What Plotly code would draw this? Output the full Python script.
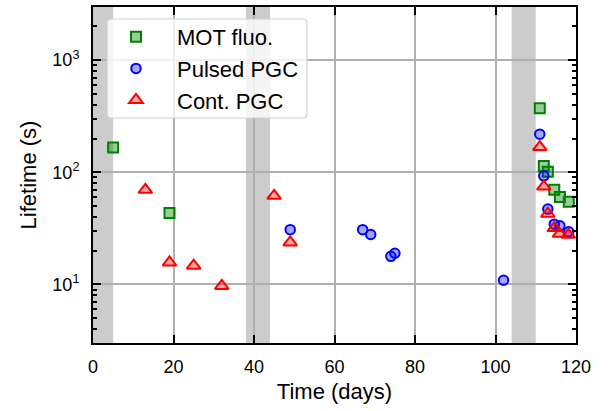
import plotly.graph_objects as go
import math

# ---- data ----
mot_t = [5, 19, 111, 112, 113, 114.6, 116, 118.2]
mot_v = [166, 43.3, 373, 114, 101, 69.8, 60.1, 54.6]

pulsed_t = [49, 67, 69, 74, 75, 102, 111, 112, 113, 114.6, 116, 118.2]
pulsed_v = [30.8, 30.8, 27.9, 17.8, 19.0, 10.9, 219, 93, 47, 34.5, 33.4, 29.5]

cont_t = [13, 19, 25, 32, 45, 49, 111, 112, 113, 114.6, 115.9, 118.1]
cont_v = [69.8, 15.7, 14.7, 9.7, 61.7, 23.7, 168, 74.6, 42.7, 31.8, 28.3, 27.7]

bands = [(0, 5), (38, 44), (104, 110)]

x_ticks = [0, 20, 40, 60, 80, 100, 120]
y_ticks = [10, 100, 1000]
y_ticktext = ["10<sup>1</sup>", "10<sup>2</sup>", "10<sup>3</sup>"]

FONT = "Arial, Liberation Sans, sans-serif"

fig = go.Figure()
fig.add_trace(go.Scatter(
    x=mot_t, y=mot_v, mode="markers", name="MOT fluo.",
    marker=dict(symbol="square", size=10, color="rgba(0,128,0,0.4)",
                line=dict(color="#008000", width=2))))
fig.add_trace(go.Scatter(
    x=pulsed_t, y=pulsed_v, mode="markers", name="Pulsed PGC",
    marker=dict(symbol="circle", size=9.5, color="rgba(0,0,255,0.35)",
                line=dict(color="#0000ff", width=2))))
fig.add_trace(go.Scatter(
    x=cont_t, y=cont_v, mode="markers", name="Cont. PGC",
    marker=dict(symbol="triangle-up", size=12, color="rgba(255,0,0,0.35)",
                line=dict(color="#ff0000", width=2))))

for a, b in bands:
    fig.add_shape(type="rect", xref="x", yref="paper", x0=a, x1=b, y0=0, y1=1,
                  fillcolor="#cccccc", line=dict(width=0), layer="below")

# legend frame (rounded)
L, T, W, H = 93, 7, 483, 336
def px(x):
    return (x - L) / W
def py(y):
    return (T + H - y) / H
x0, x1, y0, y1 = px(107), px(307), py(19), py(118)
rx, ry = 4 / W, 4 / H
path = (f"M {x0+rx},{y0} L {x1-rx},{y0} Q {x1},{y0} {x1},{y0-ry} "
        f"L {x1},{y1+ry} Q {x1},{y1} {x1-rx},{y1} L {x0+rx},{y1} "
        f"Q {x0},{y1} {x0},{y1+ry} L {x0},{y0-ry} Q {x0},{y0} {x0+rx},{y0} Z")
fig.add_shape(type="path", xref="paper", yref="paper", path=path,
              fillcolor="rgba(255,255,255,0.8)", line=dict(color="#cfcfcf", width=1.2),
              layer="above")

axis_common = dict(
    showline=True, linecolor="black", linewidth=2, mirror="ticks",
    ticks="inside", ticklen=8, tickwidth=1.5, tickcolor="black",
    showgrid=True, gridcolor="#b0b0b0", gridwidth=1.5, zeroline=False,
    tickfont=dict(family=FONT, size=18, color="black"),
    automargin=False,
)

fig.update_xaxes(range=[0, 120], tickvals=x_ticks, ticklabelstandoff=6,
                 title=dict(text="Time (days)", font=dict(family=FONT, size=22, color="black"),
                            standoff=8),
                 **axis_common)
fig.update_yaxes(type="log", range=[0.478, 3.474], tickvals=y_ticks, ticktext=y_ticktext,
                 ticklabelstandoff=8,
                 minor=dict(ticks="inside", ticklen=4, tickwidth=1.5, tickcolor="black",
                            dtick="D1", showgrid=False),
                 title=dict(text="Lifetime (s)", font=dict(family=FONT, size=22, color="black"),
                            standoff=10),
                 **axis_common)

fig.update_layout(
    width=611, height=411,
    margin=dict(l=L, r=611 - L - W, t=T, b=411 - T - H, autoexpand=False),
    plot_bgcolor="white", paper_bgcolor="white",
    showlegend=True,
    legend=dict(x=px(95), y=py(16), xanchor="left", yanchor="top",
                bgcolor="rgba(0,0,0,0)", borderwidth=0, itemwidth=72,
                font=dict(family=FONT, size=22, color="black")),
    font=dict(family=FONT),
)

fig.write_html("out.html", config={"displayModeBar": False})

# remove default page margin so the figure sits at the window origin
with open("out.html", "r", encoding="utf-8") as f:
    html = f.read()
html = html.replace("<head>", "<head><style>html,body{margin:0;padding:0;overflow:hidden;}</style>", 1)
with open("out.html", "w", encoding="utf-8") as f:
    f.write(html)
